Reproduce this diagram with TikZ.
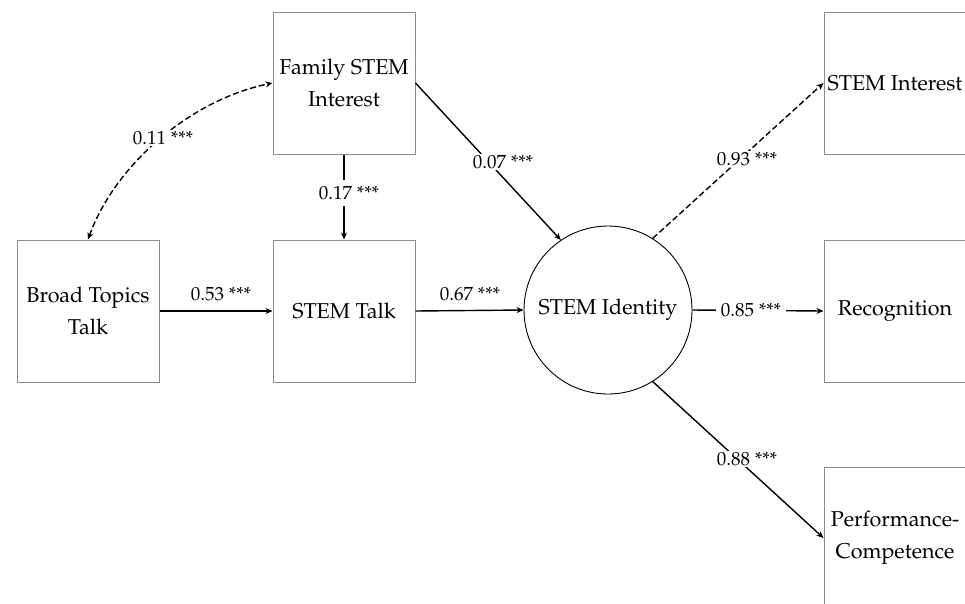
\documentclass[tikz,border=0pt]{standalone}
\usepackage[T1]{fontenc}
\usepackage{mathpazo}
\usetikzlibrary{arrows.meta}
\definecolor{boxgray}{HTML}{8C8C8C}
\newcommand{\bxfont}{\fontsize{21.5}{32}\selectfont}
\newcommand{\lbfont}{\fontsize{19}{22}\selectfont}
\begin{document}
\begin{tikzpicture}[x=1pt,y=-1pt,
  box/.style={draw=boxgray, line width=1pt, minimum width=142pt, minimum height=142pt, inner sep=0pt, align=center, font=\bxfont},
  latent/.style={draw=black, circle, line width=0.9pt, minimum size=168pt, inner sep=0pt, font=\bxfont},
  arr/.style={draw=black, line width=1.4pt, -{Stealth[length=7pt,width=6pt]}},
  dsh/.style={dash pattern=on 6pt off 3pt},
  lbl/.style={font=\lbfont, fill=white, inner xsep=5pt, inner ysep=1pt},
  lbla/.style={font=\lbfont, inner sep=1pt}]
\clip (0,0) rectangle (965,603);
\fill[white] (0,0) rectangle (965,603);
\node[box] (fam) at (344,83) {Family STEM\\Interest};
\node[box] (broad) at (88,311) {Broad Topics\\Talk};
\node[box] (talk) at (344,311) {STEM Talk};
\node[latent] (id) at (608,310) {STEM Identity};
\node[box] (sint) at (895,83) {STEM Interest};
\node[box] (rec) at (895,311) {Recognition};
\node[box] (perf) at (895,538) {Performance-\\Competence};
\draw[arr, dsh, {Stealth[length=7pt,width=6pt]}-{Stealth[length=7pt,width=6pt]}] (broad.north) .. controls (115,165) and (190,100) .. (fam.west);
\draw[arr] (fam.south) -- (talk.north);
\draw[arr] (fam.east) -- (id.124);
\draw[arr] (broad.east) -- (talk.west);
\draw[arr] (talk.east) -- (id.west);
\draw[arr, dsh] (id.58) -- (sint.west);
\draw[arr] (id.east) -- (rec.west);
\draw[arr] (id.-58) -- (perf.west);
\node[lbl] (l11) at (163,138) {0.11 ***};
\node[lbl, inner ysep=6pt] (l17) at (349,193) {0.17 ***};
\node[lbl] (l07) at (503,162) {0.07 ***};
\node[lbla] (l53) at (221,294) {0.53 ***};
\node[lbla] (l67) at (470,294) {0.67 ***};
\node[lbl] (l93) at (747,159) {0.93 ***};
\node[lbl] (l85) at (751,310) {0.85 ***};
\node[lbl] (l88) at (747,459) {0.88 ***};
\end{tikzpicture}
\end{document}
